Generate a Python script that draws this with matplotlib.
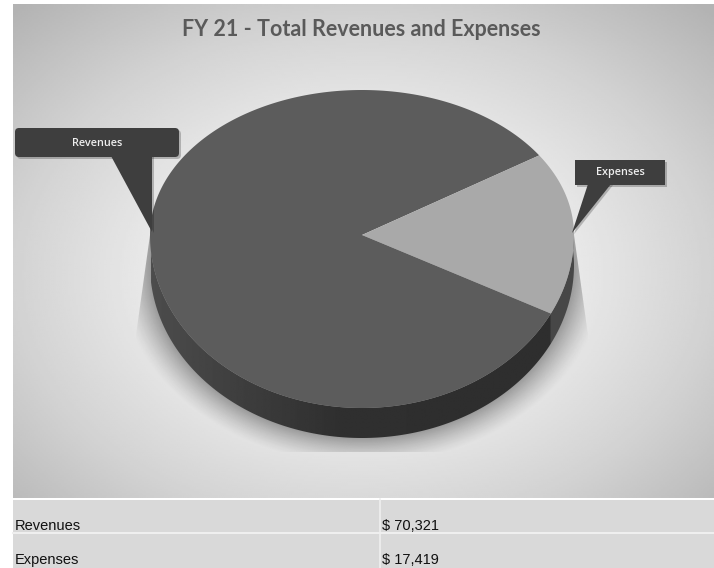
import numpy as np
import matplotlib
matplotlib.use("Agg")
import matplotlib.pyplot as plt
from matplotlib.path import Path
from matplotlib.patches import Polygon, FancyBboxPatch, Rectangle
from matplotlib.transforms import Transform, Affine2D

title = "FY 21 - Total Revenues and Expenses"
categories = ["Revenues", "Expenses"]
values = [70321, 17419]

W, H = 714, 568
CX, CY, RX, RY_TOP, RY_BOT, DEPTH = 362, 235, 212, 145, 173, 30
START = 33.3
EXP_SPAN_SCREEN = 60.3

share = values[1] / sum(values) * 360
low = START - share
XP = [low, START, low + 360]
FP = [START - EXP_SPAN_SCREEN, START, START - EXP_SPAN_SCREEN + 360]


class PieWarp(Transform):
    """Unit pie circle to tilted-disc pixels (near half of the disc is deeper)."""
    input_dims = output_dims = 2
    is_separable = False
    has_inverse = False

    def transform_non_affine(self, pts):
        pts = np.asarray(pts, float)
        u, v = pts[:, 0], pts[:, 1]
        r = np.hypot(u, v)
        th = np.degrees(np.arctan2(v, u))
        th = low + np.mod(th - low, 360)
        t = np.radians(np.interp(th, XP, FP))
        xx = r * np.cos(t)
        yy = r * np.sin(t)
        return np.column_stack([CX + RX * xx,
                                CY - yy * np.where(yy > 0, RY_TOP, RY_BOT)])

    def transform_path_non_affine(self, path):
        big = Affine2D().scale(2000).transform_path(path)
        polys = big.to_polygons(closed_only=False)
        verts = [self.transform_non_affine(p / 2000) for p in polys]
        return Path(np.vstack(verts))


warp = PieWarp()

fig = plt.figure(figsize=(W / 100, H / 100), dpi=100, facecolor="white")
ax = fig.add_axes([0, 0, 1, 1])

wedges, _ = ax.pie(values, colors=["#5c5c5c", "#a9a9a9"], startangle=START,
                   counterclock=True, radius=1, wedgeprops={"linewidth": 0})
ax.set_aspect("auto")
ax.set_xlim(0, W)
ax.set_ylim(H, 0)
ax.axis("off")

# background
L, R, T, B = 13, 714, 4, 498
gx, gy = np.meshgrid(np.linspace(L, R, 350), np.linspace(T, B, 250))
rr = np.hypot((gx - 362) / 350, (gy - 275) / 255)
bg = np.interp(rr, [0, 0.62, 1.0, 1.45], [0.97, 0.91, 0.825, 0.70])
ax.imshow(bg, extent=(L, R, B, T), cmap="gray", vmin=0, vmax=1, aspect="auto",
          zorder=0, interpolation="bilinear")

# table
ax.add_patch(Rectangle((13, 499.5), 701, 68.5, fc="#d9d9d9", ec="none", zorder=1))
ax.plot([13, 714], [533, 533], color="#efefef", lw=1.5, zorder=2)
ax.plot([380, 380], [499, 568], color="#efefef", lw=1.2, zorder=2)
for y, c, v in zip([526, 560], categories, values):
    ax.text(15, y, c, fontsize=10.5, family="Liberation Sans", color="#111111",
            va="center", zorder=3)
    ax.text(382, y, f"$ {v:,}", fontsize=10.5, family="Liberation Sans",
            color="#111111", va="center", zorder=3)

# title
ax.text(361, 29, title, fontsize=15.5, family="Lato", weight="bold",
        color="#5a5a5a", ha="center", va="center", zorder=3)

# soft shadow under the disc
sx, sy = np.meshgrid(np.linspace(120, 600, 480), np.linspace(235, 452, 217))
d = (np.hypot((sx - CX) / RX, (sy - (CY + DEPTH)) / RY_BOT) - 1) * 190
alpha = 0.34 * np.clip(1 - d / 30, 0, 1) ** 1.3
rgba = np.zeros(sx.shape + (4,))
rgba[..., 3] = alpha
im = ax.imshow(rgba, extent=(120, 600, 452, 235), aspect="auto", zorder=3)
fan = Polygon([(150, 235), (136, 335), (136, 452), (588, 452), (588, 335), (574, 235)],
              transform=ax.transData, fc="none", ec="none")
ax.add_patch(fan)
im.set_clip_path(fan)

# disc side
def rim(t1, t2):
    t = np.radians(np.linspace(t1, t2, 200))
    return warp.transform_non_affine(np.column_stack([np.cos(t), np.sin(t)]))

rev_rim = rim(180, low + 360)
exp_rim = rim(low, 0)
for pts, grad in [(rev_rim, [0.30, 0.25, 0.185, 0.18]), (exp_rim, [0.28, 0.28, 0.28, 0.28])]:
    lower = pts + np.array([0, DEPTH])
    poly = np.vstack([pts, lower[::-1]])
    sp = Polygon(poly, fc="none", ec="none", transform=ax.transData)
    ax.add_patch(sp)
    xs = np.interp(np.linspace(150, 575, 300), [150, 230, 340, 575], grad)
    g = ax.imshow(xs[None, :], extent=(150, 575, 480, 230), cmap="gray", vmin=0, vmax=1,
                  aspect="auto", zorder=4)
    g.set_clip_path(sp)

# disc top
for w in wedges:
    w.set_transform(warp + ax.transData)
    w.set_clip_on(False)
    w.set_zorder(5)
ax.set_xlim(0, W)
ax.set_ylim(H, 0)

# callouts
DARK = "#3e3e3e"
def callout(x0, y0, x1, y1, rad, pointer, label, ty):
    for off, fc, a in [(2.0, "#000000", 0.22), (0, DARK, 1)]:
        box = FancyBboxPatch((x0 + rad + off, y0 + rad + off), x1 - x0 - 2 * rad, y1 - y0 - 2 * rad,
                             boxstyle=f"round,pad={rad},rounding_size={rad}", fc=fc, ec="none",
                             alpha=a, zorder=6, mutation_aspect=1)
        ax.add_patch(box)
        ax.add_patch(Polygon(np.array(pointer) + off * np.array([1, 0.6]), fc=fc, ec="none",
                             alpha=a, zorder=6, closed=True))
    ax.text((x0 + x1) / 2, ty, label, fontsize=7.8,
            family="Open Sans", weight="semibold", color="#eeeeee", ha="center", va="center", zorder=7)

callout(15, 128, 179, 157, 4, [(111, 156), (152, 156), (152, 232)], categories[0], 143)
callout(575, 160, 665, 185, 0.01, [(588, 184), (611, 184), (572, 233)], categories[1], 172.5)

fig.savefig("out.png", dpi=100, facecolor="white")
